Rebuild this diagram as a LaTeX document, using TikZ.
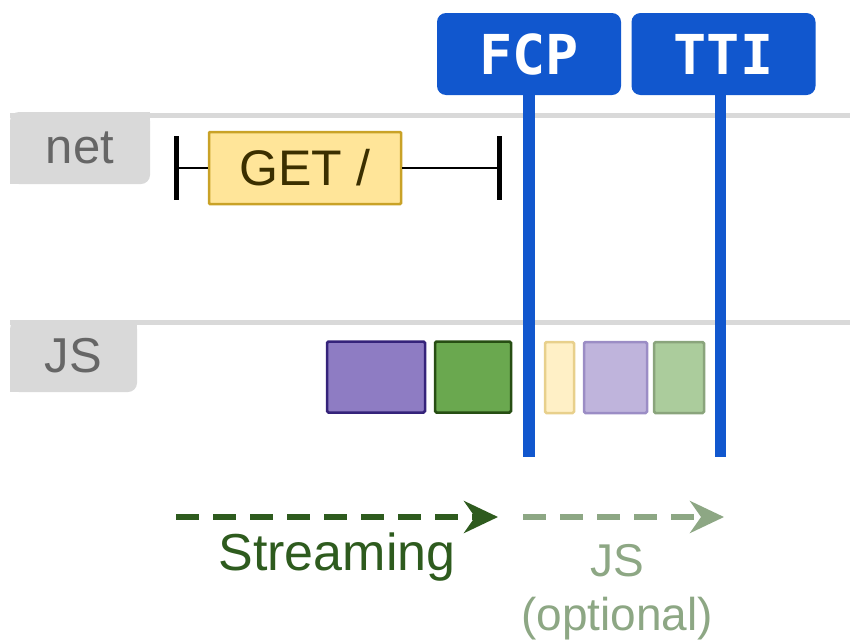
\documentclass[tikz,border=0pt]{standalone}
\usepackage{fontspec}
\setmainfont{Liberation Sans}
\setmonofont{DejaVu Sans Mono}
\usetikzlibrary{arrows.meta}

\definecolor{lanegray}{HTML}{D9D9D9}
\definecolor{labelgray}{HTML}{666666}
\definecolor{markerblue}{HTML}{1157CE}
\definecolor{getfill}{HTML}{FFE599}
\definecolor{getdraw}{HTML}{C9A227}
\definecolor{gettext}{HTML}{3B2F00}
\definecolor{purplefill}{HTML}{8E7CC3}
\definecolor{purpledraw}{HTML}{35237A}
\definecolor{greenfill}{HTML}{6AA84F}
\definecolor{greendraw}{HTML}{274E13}
\definecolor{paleyellowfill}{HTML}{FFF0C6}
\definecolor{paleyellowdraw}{HTML}{E8D08C}
\definecolor{palepurplefill}{HTML}{BFB4DC}
\definecolor{palepurpledraw}{HTML}{9B8DC5}
\definecolor{palegreenfill}{HTML}{ABCC9C}
\definecolor{palegreendraw}{HTML}{8AA47C}
\definecolor{streamgreen}{HTML}{2E5B1E}
\definecolor{optgreen}{HTML}{8DA784}

\begin{document}
\begin{tikzpicture}[x=1pt,y=-1pt,
    lane/.style={draw=lanegray, line width=5pt},
    tab/.style={fill=lanegray, rounded corners=9pt, inner sep=0pt, text=labelgray, font=\fontsize{49}{56}\selectfont},
    jsblock/.style={draw, line width=2.5pt, rounded corners=1.5pt, minimum height=71pt, inner sep=0pt},
    marker/.style={fill=markerblue, rounded corners=9pt, minimum width=184pt, minimum height=82pt, inner sep=0pt, text=white, font=\ttfamily\bfseries\fontsize{55}{60}\selectfont},
    markerline/.style={draw=markerblue, line width=11.5pt},
    flow/.style={line width=5.5pt, dash pattern=on 23pt off 14pt, -{Stealth[length=34pt, width=32pt]}},
    caption/.style={align=center}]
    \useasboundingbox (0,0) rectangle (850,640);

    % lanes
    \draw[lane] (10,115) -- (850,115);
    \draw[lane] (10,322) -- (850,322);
    \node[tab, minimum width=140pt, minimum height=72pt] (nettab) at (80,148) {net};
    \fill[lanegray] (nettab.north east) rectangle ++(-12,12);
    \fill[lanegray] (nettab.south west) rectangle ++(12,-12);
    \node[tab, minimum width=127pt, minimum height=72pt] (jstab) at (73.5,356) {JS};
    \fill[lanegray] (jstab.north east) rectangle ++(-12,12);
    \fill[lanegray] (jstab.south west) rectangle ++(12,-12);

    % network request
    \coordinate (netstart) at (176,168);
    \coordinate (netend) at (499.5,168);
    \node[draw=getdraw, fill=getfill, line width=2.5pt, rounded corners=1pt, minimum width=192pt, minimum height=72pt, text=gettext, font=\fontsize{50}{56}\selectfont] (get) at (305,168) {GET /};
    \draw[line width=2.5pt] (netstart) -- (get.west);
    \draw[line width=2.5pt] (get.east) -- (netend);
    \draw[line width=5pt] ([yshift=32pt]netstart) -- ([yshift=-32pt]netstart);
    \draw[line width=5pt] ([yshift=32pt]netend) -- ([yshift=-32pt]netend);

    % js work
    \node[jsblock, fill=purplefill, draw=purpledraw, minimum width=98pt] (parse) at (376,377) {};
    \node[jsblock, fill=greenfill, draw=greendraw, minimum width=76pt] (run) at (473,377) {};
    \node[jsblock, fill=paleyellowfill, draw=paleyellowdraw, minimum width=29pt] (late) at (559.5,377.5) {};
    \node[jsblock, fill=palepurplefill, draw=palepurpledraw, minimum width=63pt] (lateparse) at (615.5,377.5) {};
    \node[jsblock, fill=palegreenfill, draw=palegreendraw, minimum width=50pt] (laterun) at (679,377.5) {};

    % milestones
    \node[marker] (fcp) at (529,54) {FCP};
    \node[marker] (tti) at (723.5,54) {TTI};
    \coordinate (fcpend) at (529,457);
    \coordinate (ttiend) at (720.5,457);
    \draw[markerline] (fcp.south) -- (fcpend);
    \draw[markerline] (ttiend |- tti.south) -- (ttiend);

    % streaming arrows
    \coordinate (streamstart) at (176,517);
    \coordinate (streamend) at (498,517);
    \coordinate (optstart) at (523,517);
    \coordinate (optend) at (724,517);
    \draw[flow, streamgreen] (streamstart) -- (streamend);
    \draw[flow, optgreen] (optstart) -- (optend);
    \node[caption, text=streamgreen, font=\fontsize{52}{56}\selectfont] (streaming) at (337,557) {Streaming};
    \node[caption, text=optgreen, font=\fontsize{46}{54}\selectfont] (optional) at (617,592) {JS\\(optional)};
\end{tikzpicture}
\end{document}
